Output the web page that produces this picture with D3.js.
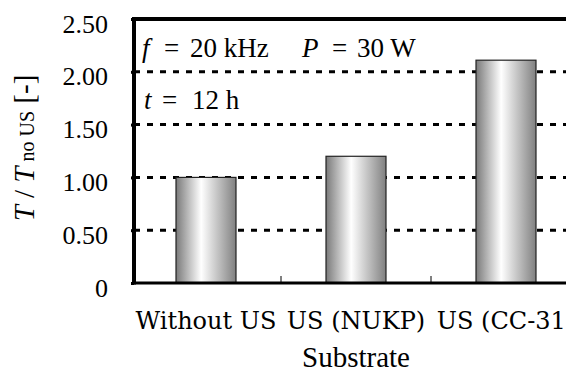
<!DOCTYPE html>
<html>
  <head>
    <meta charset="utf-8">
    <script src="https://cdn.jsdelivr.net/npm/d3@7"></script>
    <style>
      body { margin: 0; background: white; }
    </style>
  </head>
  <body>
    <script>
      var width = 566;
      var height = 372;

      var categories = ["Without US", "US (NUKP)", "US (CC-31)"];
      var values = [1.00, 1.20, 2.11];
      var yTicks = [0, 0.5, 1.0, 1.5, 2.0, 2.5];
      var yTickLabels = ["0", "0.50", "1.00", "1.50", "2.00", "2.50"];

      var plotLeft = 134, plotTop = 19, plotBottom = 283, bandW = 150;

      var x = d3.scaleBand().domain(categories)
        .range([plotLeft - 3, plotLeft - 3 + bandW * categories.length]).paddingInner(0.6).paddingOuter(0.3);
      var y = d3.scaleLinear().domain([0, 2.5]).range([plotBottom, plotTop]);

      var svg = d3.select("body").append("svg").attr("width", width).attr("height", height);

      var grad = svg.append("defs").append("linearGradient").attr("id", "barGrad")
        .attr("x1", "0%").attr("x2", "100%").attr("y1", "0%").attr("y2", "0%");
      grad.append("stop").attr("offset", "0%").attr("stop-color", "#7a7a7a");
      grad.append("stop").attr("offset", "42%").attr("stop-color", "#ffffff");
      grad.append("stop").attr("offset", "100%").attr("stop-color", "#808080");

      svg.append("g").selectAll("line")
        .data(yTicks.filter(function(d){ return d > 0 && d < 2.5; }))
        .enter().append("line")
          .attr("x1", plotLeft).attr("x2", width)
          .attr("y1", function(d){ return y(d); })
          .attr("y2", function(d){ return y(d); })
          .attr("stroke", "black").attr("stroke-width", 3)
          .attr("stroke-dasharray", "6,7");

      svg.append("g").selectAll("rect")
        .data(values)
        .enter().append("rect")
          .attr("x", function(d, i){ return x(categories[i]); })
          .attr("width", x.bandwidth())
          .attr("y", function(d){ return y(d); })
          .attr("height", function(d){ return plotBottom - y(d); })
          .attr("fill", "url(#barGrad)")
          .attr("stroke", "#222").attr("stroke-width", 1.2);

      var xAxis = svg.append("g").attr("transform", "translate(0," + plotBottom + ")")
        .call(d3.axisBottom(x).tickSize(0).tickPadding(29));
      xAxis.attr("font-family", "DejaVu Serif");
      xAxis.select(".domain").remove();
      xAxis.selectAll("text").attr("font-size", 24);
      svg.append("line").attr("x1", plotLeft).attr("x2", width)
        .attr("y1", plotBottom).attr("y2", plotBottom)
        .attr("stroke", "black").attr("stroke-width", 3);
      svg.append("g").selectAll("line")
        .data(categories.slice(1))
        .enter().append("line")
          .attr("x1", function(d){ return x(d) - x.step() * 0.3; })
          .attr("x2", function(d){ return x(d) - x.step() * 0.3; })
          .attr("y1", plotBottom).attr("y2", plotBottom - 7)
          .attr("stroke", "black").attr("stroke-width", 1);

      svg.append("line").attr("x1", plotLeft - 2).attr("x2", width)
        .attr("y1", plotTop).attr("y2", plotTop)
        .attr("stroke", "black").attr("stroke-width", 4);

      var yAxis = svg.append("g").attr("transform", "translate(" + plotLeft + ",0)")
        .call(d3.axisLeft(y).tickValues(yTicks)
          .tickFormat(function(d, i){ return yTickLabels[i]; })
          .tickSize(3).tickPadding(23));
      yAxis.attr("font-family", "Liberation Serif");
      yAxis.select(".domain").attr("stroke-width", 4)
        .attr("d", "M0," + (plotTop - 2) + "V" + (plotBottom + 1.5));
      yAxis.selectAll(".tick line").attr("stroke-width", 3);
      yAxis.selectAll("text").attr("font-size", 26).attr("dy", "0.5em");

      svg.append("text").attr("x", x("US (NUKP)") + x.bandwidth() / 2).attr("y", 367)
        .attr("font-family", "Tinos")
        .attr("text-anchor", "middle").attr("font-size", 29).text("Substrate");

      var yt = svg.append("text").attr("transform", "translate(34,148) rotate(-90)")
        .attr("font-family", "Times New Roman")
        .attr("text-anchor", "middle").attr("font-size", 29);
      yt.append("tspan").attr("font-style", "italic").text("T");
      yt.append("tspan").text(" / ");
      yt.append("tspan").attr("font-style", "italic").text("T");
      yt.append("tspan").attr("font-size", 20).text(" no US");
      yt.append("tspan").text(" [-]");

      var a1 = svg.append("text").attr("y", 57).attr("font-family", "serif").attr("font-size", 27);
      a1.append("tspan").attr("x", 142).attr("font-style", "italic").text("f");
      a1.append("tspan").attr("x", 164).text("=");
      a1.append("tspan").attr("x", 190).text("20 kHz");
      a1.append("tspan").attr("x", 302).attr("font-style", "italic").text("P");
      a1.append("tspan").attr("x", 332).text("=");
      a1.append("tspan").attr("x", 357).text("30 W");

      var a2 = svg.append("text").attr("y", 109).attr("font-family", "Liberation Serif").attr("font-size", 27);
      a2.append("tspan").attr("x", 144).attr("font-style", "italic").text("t");
      a2.append("tspan").attr("x", 162).text("=");
      a2.append("tspan").attr("x", 192).text("12 h");
    </script>
  </body>
</html>
